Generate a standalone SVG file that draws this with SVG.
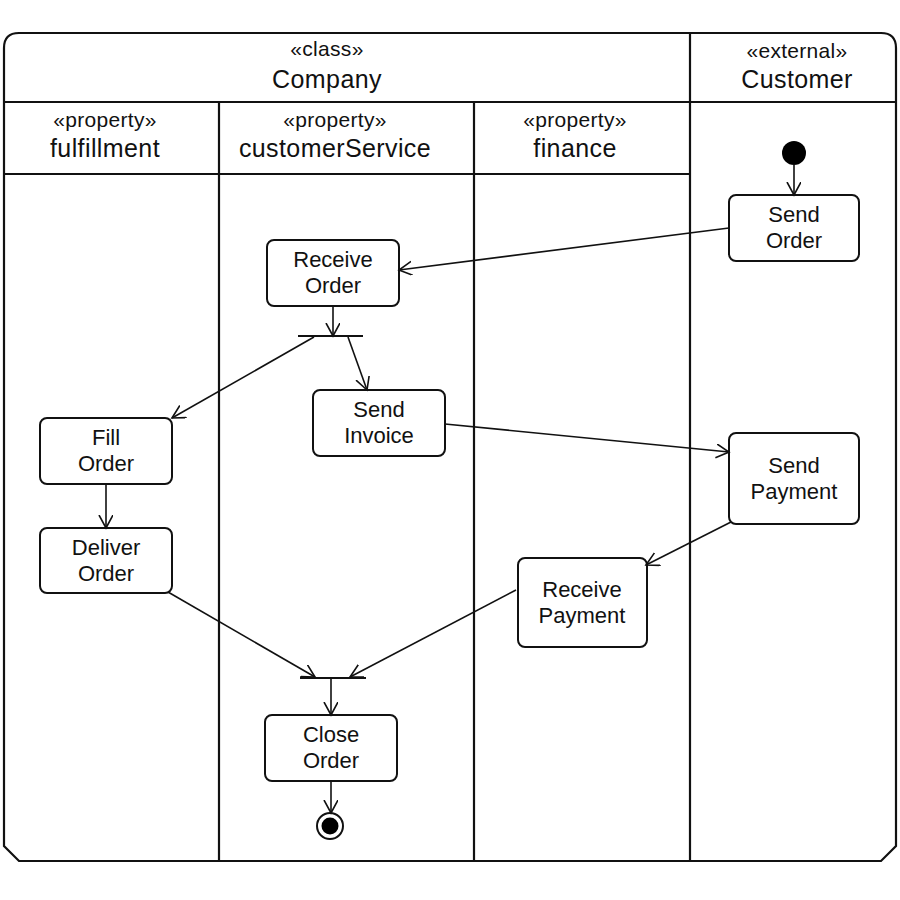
<svg xmlns="http://www.w3.org/2000/svg" width="900" height="900" viewBox="0 0 900 900">
<defs>
<style>
.frame{fill:none;stroke:#111;stroke-width:2.2}
.ln{stroke:#111;stroke-width:2.2;fill:none}
.node rect{fill:#fff;stroke:#111;stroke-width:2}
.conn line{stroke:#111;stroke-width:1.6;fill:none;marker-end:url(#arr)}
.t{font-family:"Liberation Sans",Arial,sans-serif;fill:#111;text-anchor:middle}
.st{font-size:21px;letter-spacing:0.3px}
.hd{font-size:25px;letter-spacing:0.4px}
.nt{font-size:22px}
.bar{stroke:#111;stroke-width:2.2}
</style>
<marker id="arr" markerUnits="userSpaceOnUse" markerWidth="16" markerHeight="16" refX="13" refY="7" orient="auto">
<path d="M0,0 L13,7 L0,14" fill="none" stroke="#111" stroke-width="1.6"/>
</marker>
</defs>
<rect width="900" height="900" fill="#fff"/>
<g id="frame">
<path class="frame" d="M19,33 L881,33 Q896,33 896,48 L896,846 L881,861 L19,861 L4,846 L4,48 Q4,33 19,33 Z"/>
<line class="ln" x1="4" y1="102" x2="896" y2="102"/>
<line class="ln" x1="690" y1="33" x2="690" y2="861"/>
<line class="ln" x1="4" y1="174" x2="690" y2="174"/>
<line class="ln" x1="219" y1="102" x2="219" y2="861"/>
<line class="ln" x1="474" y1="102" x2="474" y2="861"/>
</g>
<g id="headers">
<text class="t st" x="327" y="56">«class»</text>
<text class="t hd" x="327" y="88">Company</text>
<text class="t st" x="797" y="58">«external»</text>
<text class="t hd" x="797" y="88">Customer</text>
<text class="t st" x="105" y="127">«property»</text>
<text class="t hd" x="105" y="157">fulfillment</text>
<text class="t st" x="335" y="127">«property»</text>
<text class="t hd" x="335" y="157">customerService</text>
<text class="t st" x="575" y="127">«property»</text>
<text class="t hd" x="575" y="157">finance</text>
</g>
<g id="initial"><circle cx="794" cy="153" r="12" fill="#000"/></g>
<g id="sendOrder" class="node"><rect x="729" y="195" width="130" height="66" rx="7"/><text class="t nt" x="794" y="222">Send</text><text class="t nt" x="794" y="248">Order</text></g>
<g id="receiveOrder" class="node"><rect x="267" y="240" width="132" height="66" rx="7"/><text class="t nt" x="333" y="267">Receive</text><text class="t nt" x="333" y="293">Order</text></g>
<g id="fork"><line class="bar" x1="298" y1="336" x2="363" y2="336"/></g>
<g id="sendInvoice" class="node"><rect x="313" y="390" width="132" height="66" rx="7"/><text class="t nt" x="379" y="417">Send</text><text class="t nt" x="379" y="443">Invoice</text></g>
<g id="fillOrder" class="node"><rect x="40" y="418" width="132" height="66" rx="7"/><text class="t nt" x="106" y="445">Fill</text><text class="t nt" x="106" y="471">Order</text></g>
<g id="deliverOrder" class="node"><rect x="40" y="528" width="132" height="65" rx="7"/><text class="t nt" x="106" y="555">Deliver</text><text class="t nt" x="106" y="581">Order</text></g>
<g id="sendPayment" class="node"><rect x="729" y="433" width="130" height="91" rx="7"/><text class="t nt" x="794" y="473">Send</text><text class="t nt" x="794" y="499">Payment</text></g>
<g id="receivePayment" class="node"><rect x="518" y="558" width="129" height="89" rx="7"/><text class="t nt" x="582" y="597">Receive</text><text class="t nt" x="582" y="623">Payment</text></g>
<g id="join"><line class="bar" x1="300" y1="678" x2="366" y2="678"/></g>
<g id="closeOrder" class="node"><rect x="265" y="715" width="132" height="66" rx="7"/><text class="t nt" x="331" y="742">Close</text><text class="t nt" x="331" y="768">Order</text></g>
<g id="final"><circle cx="330" cy="826" r="13" fill="#fff" stroke="#111" stroke-width="2"/><circle cx="330" cy="826" r="8.5" fill="#000"/></g>
<g id="connectors" class="conn">
<line x1="794" y1="165" x2="794" y2="195"/>
<line x1="729" y1="228" x2="399" y2="270"/>
<line x1="333" y1="306" x2="333" y2="336"/>
<line x1="348" y1="337" x2="367" y2="390"/>
<line x1="314" y1="337" x2="172" y2="418"/>
<line x1="445" y1="424" x2="729" y2="452"/>
<line x1="106" y1="484" x2="106" y2="528"/>
<line x1="731" y1="522" x2="646" y2="565"/>
<line x1="168" y1="592" x2="315" y2="677"/>
<line x1="516" y1="590" x2="350" y2="677"/>
<line x1="331" y1="679" x2="331" y2="715"/>
<line x1="331" y1="781" x2="331" y2="813"/>
</g>
</svg>
